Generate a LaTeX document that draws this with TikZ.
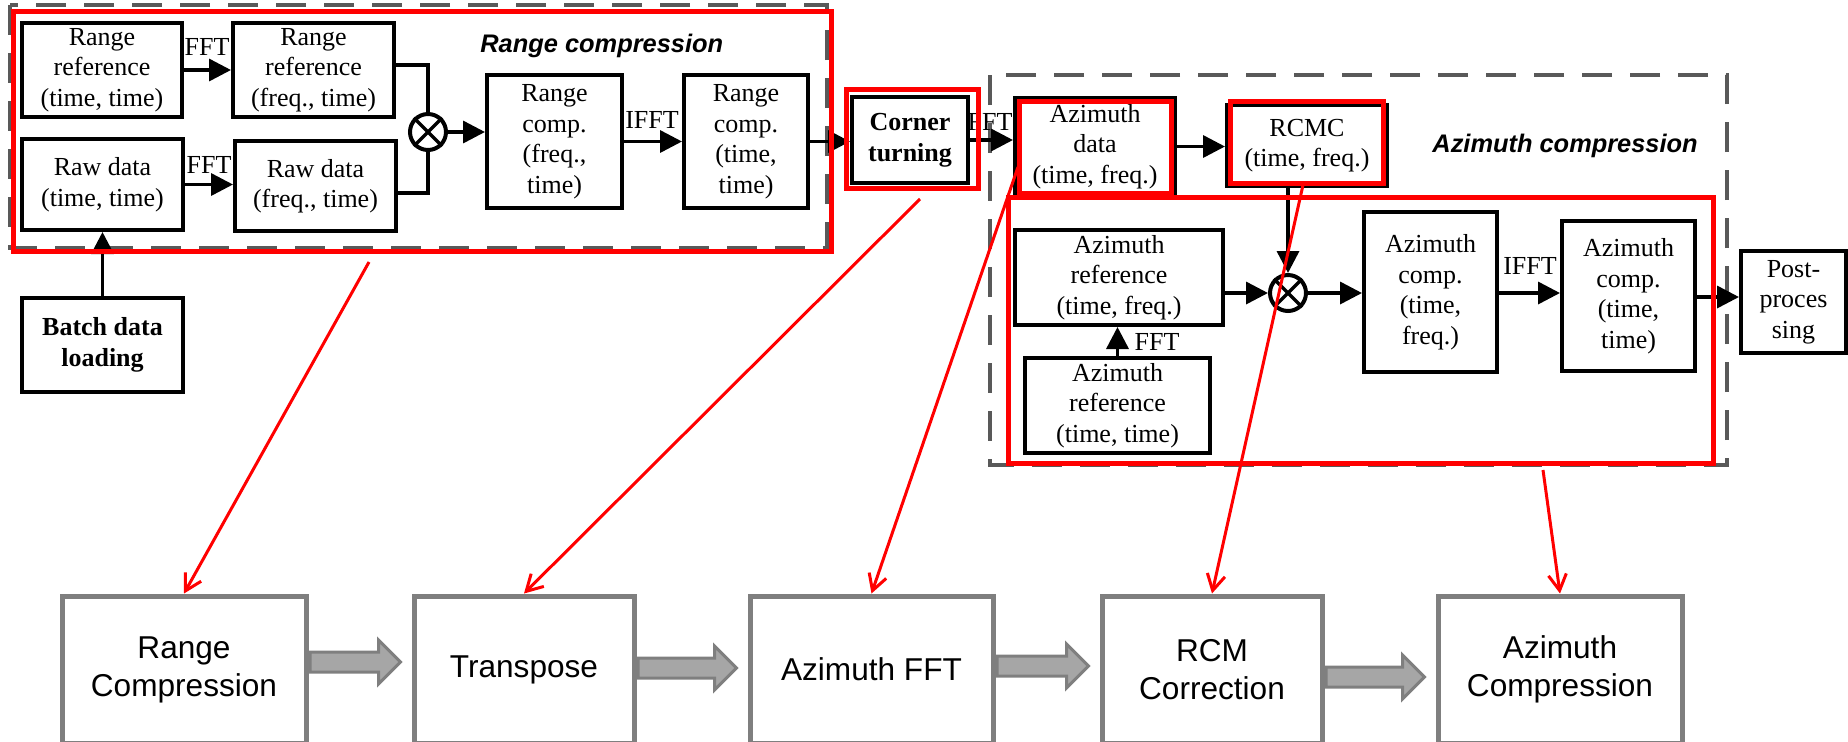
\documentclass[tikz,border=0pt]{standalone}
\usepackage{fontspec}
\setmainfont{Liberation Serif}
\setsansfont{Liberation Sans}
\usetikzlibrary{arrows.meta,calc}
\definecolor{dgray}{HTML}{595959}
\definecolor{bgray}{HTML}{7F7F7F}
\definecolor{lgray}{HTML}{A6A6A6}
\definecolor{rred}{HTML}{FF0000}
\newcommand\mybox[7]{\node[#6, minimum width={(#4-#2)*0.5pt}, minimum height={(#5-#3)*0.5pt}] (#1) at ({(#2+#4)/2},{(#3+#5)/2}) {#7};}
\begin{document}
\begin{tikzpicture}[x=0.5pt,y=-0.5pt,
  blk/.style={draw=black, line width=2pt, fill=white, inner sep=0pt, align=center, font=\fontsize{13}{15.25}\selectfont},
  blkb/.style={blk, font=\fontsize{13}{15.5}\selectfont\bfseries},
  redbox/.style={draw=rred, line width=2.5pt, inner sep=0pt},
  dbox/.style={draw=dgray, line width=1.7pt, dash pattern=on 15pt off 9pt},
  arr/.style={line width=1.75pt, -{Triangle[length=11pt,width=11pt]}},
  ln/.style={line width=1.75pt},
  lbl/.style={font=\fontsize{13}{15}\selectfont, inner sep=0pt},
  ttl/.style={font=\sffamily\bfseries\itshape\fontsize{12.7}{15}\selectfont, inner sep=0pt, anchor=base west},
  rarr/.style={draw=rred, line width=1.5pt, -{Straight Barb[length=8pt,width=9pt]}},
  gbox/.style={draw=bgray, line width=2.5pt, fill=white, inner sep=0pt, align=center, font=\sffamily\fontsize{15.8}{19}\selectfont},
  garr/.style={draw=bgray, line width=1.5pt, fill=lgray, line join=miter},
  mul/.style={circle, draw=black, line width=2pt, minimum size=18pt, inner sep=0pt, fill=white}
]
\useasboundingbox (0,0) rectangle (1848,741);
% dashed group frames
\draw[dbox] (10,5) rectangle (827,248);
\draw[dbox] (990,75) rectangle (1727,465);
% range part
\mybox{rrt}{22}{23}{182}{117}{blk}{Range\\reference\\(time, time)}
\mybox{rrf}{233}{23}{394}{117}{blk}{Range\\reference\\(freq., time)}
\mybox{rdt}{22}{139}{183}{230}{blk}{Raw data\\(time, time)}
\mybox{rdf}{235}{141}{396}{231}{blk}{Raw data\\(freq., time)}
\node[mul] (m1) at (428,132) {};
\draw[ln] (m1.north west) -- (m1.south east) (m1.north east) -- (m1.south west);
\mybox{rcf}{487}{75}{622}{208}{blk}{Range\\comp.\\(freq.,\\time)}
\mybox{rct}{684}{75}{808}{208}{blk}{Range\\comp.\\(time,\\time)}
\mybox{ct}{852}{97}{968}{183}{blkb}{Corner\\turning}
\mybox{bdl}{22}{298}{183}{392}{blkb}{Batch data\\loading}
% azimuth part
\mybox{azd}{1015}{98}{1175}{195}{blk}{Azimuth\\data\\(time, freq.)}
\mybox{rcmc}{1227}{105}{1387}{186}{blk}{RCMC\\(time, freq.)}
\mybox{azrf}{1015}{230}{1223}{325}{blk}{Azimuth\\reference\\(time, freq.)}
\mybox{azrt}{1025}{358}{1210}{453}{blk}{Azimuth\\reference\\(time, time)}
\node[mul] (m2) at (1288,293) {};
\draw[ln] (m2.north west) -- (m2.south east) (m2.north east) -- (m2.south west);
\mybox{azcf}{1364}{212}{1497}{372}{blk}{Azimuth\\comp.\\(time,\\freq.)}
\mybox{azct}{1562}{221}{1695}{371}{blk}{Azimuth\\comp.\\(time,\\time)}
\mybox{post}{1741}{251}{1846}{353}{blk}{Post-\\proces\\sing}
% black connectors
\draw[arr] (rrt.east) -- (rrt.east -| rrf.west);
\node[lbl] at (207,47) {FFT};
\draw[arr] (rdt.east) -- (rdt.east -| rdf.west);
\node[lbl] at (209,165) {FFT};
\draw[ln] ($(rrf.east)+(0,-5)$) -| (m1.north);
\draw[ln] ($(rdf.east)+(0,7)$) -| (m1.south);
\draw[arr] (m1.east) -- (m1.east -| rcf.west);
\draw[arr] (rcf.east) -- (rcf.east -| rct.west);
\node[lbl] at (652,120) {IFFT};
\draw[arr] (rct.east) -- (rct.east -| ct.west);
\draw[arr] (bdl.north) -- (rdt.south);
\node[lbl] at (990,122) {FFT};
\draw[arr] (ct.east) -- (ct.east -| azd.west);
\draw[arr] (azd.east) -- (azd.east -| rcmc.west);
\draw[arr] (m2 |- rcmc.south) -- (m2.north);
\draw[arr] (azrf.east |- m2) -- (m2.west);
\draw[arr] (m2.east) -- (m2.east -| azcf.west);
\draw[arr] (azcf.east |- m2) -- (m2 -| azct.west);
\node[lbl] at (1530,266) {IFFT};
\draw[arr] ($(azct.east)+(0,1)$) -- ($(azct.east -| post.west)+(0,1)$);
\draw[arr] (azrt.north) -- (azrt.north |- azrf.south);
\node[lbl] at (1157,342) {FFT};
% titles
\node[ttl] at (480,52) {Range compression};
\node[ttl] at (1432,152) {Azimuth compression};
% red highlight frames
\mybox{rcR}{13}{11}{831}{251}{redbox}{}
\mybox{ctR}{846}{89}{978}{188}{redbox}{}
\mybox{azdR}{1019}{101}{1171}{193}{redbox}{}
\mybox{rcmcR}{1230}{101}{1383}{183}{redbox}{}
\mybox{azR}{1008}{197}{1713}{463}{redbox}{}
% bottom row
\mybox{rcb}{62}{596}{306}{743}{gbox}{Range\\Compression}
\mybox{trb}{414}{596}{634}{743}{gbox}{Transpose}
\mybox{afb}{750}{596}{993}{743}{gbox}{Azimuth FFT}
\mybox{rmb}{1102}{596}{1322}{743}{gbox}{RCM\\Correction}
\mybox{acb}{1438}{596}{1682}{743}{gbox}{Azimuth\\Compression}
\foreach \a/\b/\dy in {rcb/trb/-7.5, trb/afb/-1.5, afb/rmb/-3.5, rmb/acb/7.5}{
  \coordinate (gs) at ($(\a.east)+(1.5,\dy)$);
  \coordinate (ge0) at (gs -| \b.west);
  \coordinate (ge) at ($(ge0)+(-11,0)$);
  \draw[garr] ($(gs)+(0,-10)$) -- ($(ge)+(-22,-10)$) -- ($(ge)+(-22,-22)$) -- (ge) -- ($(ge)+(-22,22)$) -- ($(ge)+(-22,10)$) -- ($(gs)+(0,10)$) -- cycle;
}
% red connectors
\coordinate (s1) at (369,262);
\coordinate (s2) at (920,199);
\coordinate (s3) at (1018,167);
\coordinate (s4) at (1303,185);
\coordinate (s5) at (1543,470);
\draw[rarr] (s1) -- (rcb.north);
\draw[rarr] (s2) -- (trb.north);
\draw[rarr] (s3) -- (afb.north);
\draw[rarr] (s4) -- (rmb.north);
\draw[rarr] (s5) -- (acb.north);
\end{tikzpicture}
\end{document}
